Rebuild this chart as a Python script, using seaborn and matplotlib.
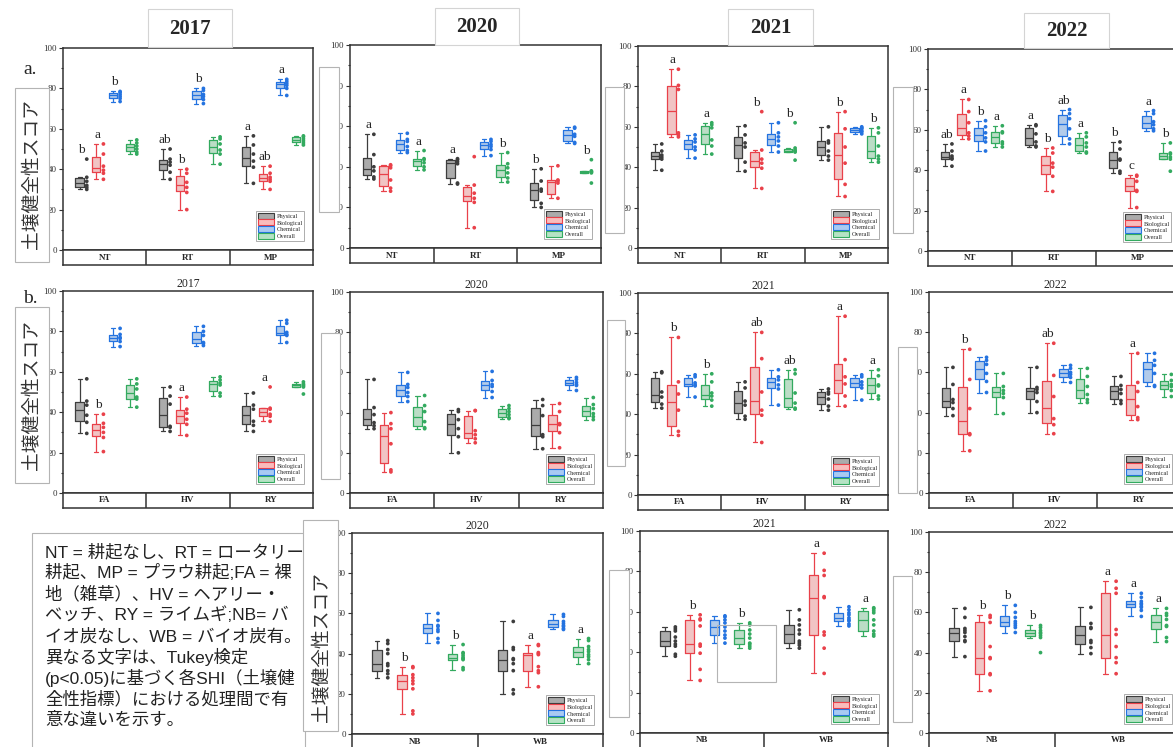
import matplotlib
matplotlib.use("Agg")
import matplotlib.pyplot as plt
import seaborn as sns
import pandas as pd
from matplotlib.patches import Patch, Rectangle

sns.set_style("ticks")
plt.rcParams.update(
    {
        "font.family": ["Liberation Serif", "DejaVu Serif"],
        "axes.edgecolor": "#333333",
        "axes.linewidth": 1.1,
        "xtick.color": "#333333",
        "ytick.color": "#333333",
    }
)

W, H = 1173, 747
JP = ["Noto Sans CJK JP", "DejaVu Sans"]
JP_TEXT = ["Liberation Sans", "Noto Sans CJK JP", "DejaVu Sans"]

SERIES = ["Physical", "Biological", "Chemical", "Overall"]
FILL = ["#ababab", "#f9bcbc", "#a9caf3", "#b5e3c4"]
EDGE = ["#3d3d3d", "#e9414a", "#2473e0", "#33aa5f"]

TILLAGE = ["NT", "RT", "MP"]
COVER = ["FA", "HV", "RY"]
BIOCHAR = ["NB", "WB"]

# a. 耕起処理
A2017 = {
    "Physical": [[45, 36, 34, 32, 31, 30], [50, 45, 43.5, 42, 38.5, 35], [56.5, 52, 47.5, 44, 41, 33]],
    "Biological": [[52.5, 47.5, 41.5, 39.5, 38, 35], [40, 38, 33.5, 31, 28.5, 20], [41.5, 38, 36, 35, 34, 30]],
    "Chemical": [[78.5, 78, 77, 76, 75, 73.5], [80, 79, 77, 76, 74.5, 72.5], [84.5, 83.5, 82.5, 81.5, 80, 76.5]],
    "Overall": [[54.5, 53, 51.5, 50, 48.5, 47.5], [56, 55, 52.5, 49.5, 47.5, 42.5], [56.5, 56, 55, 54, 53, 52]],
}
A2017_LET = {"Physical": ["b", "ab", "a"], "Biological": ["a", "b", "ab"], "Chemical": ["b", "b", "a"]}

A2020 = {
    "Physical": [[56, 46, 40, 38, 35, 34], [44, 43.5, 42.5, 41.5, 32, 31.5], [39, 33, 29, 28, 22, 20]],
    "Biological": [[41, 40.5, 39.5, 33.5, 29.5, 28], [45, 31, 27, 24.5, 22.5, 10], [40.5, 33.5, 33, 32, 24.5, 11.5]],
    "Chemical": [[56.5, 53.5, 52.5, 50, 48, 47], [53.5, 52.5, 51, 50, 48.5, 45.5], [59.5, 59, 56, 55, 52, 51.5]],
    "Overall": [[48, 44, 43.5, 42, 40, 38.5], [47, 41.5, 39.5, 37, 34.5, 32.5], [43.5, 38, 37.5, 37.5, 37, 32]],
}
A2020_LET = {"Physical": ["a", "a", "b"], "Overall": ["a", "b", "b"]}

A2021 = {
    "Physical": [[51.5, 48, 46, 45, 44, 38.5], [60.5, 56, 52, 50, 42.5, 38], [60, 53, 52, 48, 45.5, 43.5]],
    "Biological": [[88.5, 80.5, 78.5, 57, 56, 55], [67.5, 48.5, 44, 42, 39.5, 29.5], [67.5, 59, 50, 42, 31.5, 25.5]],
    "Chemical": [[56, 54, 52.5, 50, 48.5, 44.5], [62, 57, 55, 53, 50.5, 47.5], [60, 59.5, 59, 58, 57.5, 56.5]],
    "Overall": [[62, 61, 59.5, 53.5, 50.5, 46.5], [62, 49.5, 48.5, 48, 47.5, 43.5], [59.5, 57, 50.5, 45.5, 44, 42.5]],
}
A2021_LET = {"Biological": ["a", "b", "b"], "Overall": ["a", "b", "b"]}

A2022 = {
    "Physical": [[53, 49.5, 47, 46, 45.5, 42], [62.5, 62, 58, 54, 52, 51.5], [54, 50.5, 45.5, 45, 39.5, 38.5]],
    "Biological": [[75, 69, 63.5, 58.5, 57, 55.5], [51, 48.5, 43.5, 41.5, 37, 29.5], [37.5, 37, 34.5, 30, 29.5, 21.5]],
    "Chemical": [[64.5, 61.5, 58.5, 56, 54, 49.5], [70, 68, 65.5, 60.5, 55.5, 53], [69.5, 68, 64, 62.5, 60.5, 59.5]],
    "Overall": [[62, 59, 58.5, 54, 53, 51.5], [58.5, 56.5, 53.5, 51.5, 49, 48.5], [53.5, 48.5, 48, 46.5, 45.5, 39.5]],
}
A2022_LET = {"Physical": ["ab", "a", "b"], "Biological": ["a", "b", "c"],
             "Chemical": ["b", "ab", "a"], "Overall": ["a", "a", "b"]}

# b. 被覆作物
B2017 = {
    "Physical": [[56.5, 45.5, 43.5, 38.5, 35, 29.5], [52.5, 48, 44, 33, 32.5, 30.5], [49.5, 43.5, 41.5, 35.5, 33.5, 30.5]],
    "Biological": [[39, 34.5, 32.5, 30, 27.5, 20.5], [47.5, 41.5, 39.5, 36.5, 34, 28.5], [52.5, 42, 41.5, 39, 38, 35.5]],
    "Chemical": [[81.5, 78.5, 77, 76.5, 75, 72.5], [82.5, 80, 78, 74.5, 74, 73], [85.5, 84, 79.5, 78.5, 78, 74.5]],
    "Overall": [[56.5, 54, 51.5, 47.5, 46.5, 42.5], [57.5, 56, 54.5, 53.5, 49.5, 48], [55, 54, 53.5, 53, 52.5, 49]],
}
B2017_LET = {"Biological": ["b", "a", "a"]}

B2020 = {
    "Physical": [[56.5, 42.5, 39, 35, 33.5, 32], [41.5, 40.5, 36.5, 32, 28, 20], [46.5, 43.5, 38.5, 29, 28, 22]],
    "Biological": [[40, 34.5, 32, 24.5, 11.5, 10.5], [41, 41, 31, 29, 27, 25], [44.5, 40.5, 34.5, 34, 30, 22.5]],
    "Chemical": [[60, 54, 52.5, 50, 48, 45.5], [60.5, 56, 54, 53, 50.5, 47.5], [57.5, 56.5, 55, 54, 53.5, 51]],
    "Overall": [[48.5, 43.5, 40.5, 35.5, 32.5, 32], [43.5, 42, 40.5, 39, 37.5, 37], [47.5, 44, 42, 39.5, 38, 36.5]],
}
B2020_LET = {}

B2021 = {
    "Physical": [[61, 60.5, 51, 48.5, 45, 43], [56, 53, 46.5, 44.5, 39, 37.5], [52.5, 51, 50, 47.5, 44, 42]],
    "Biological": [[78, 56, 50, 42, 31.5, 29.5], [80.5, 67.5, 51, 42, 39.5, 26], [88.5, 67, 58.5, 55, 49, 44]],
    "Chemical": [[59.5, 58.5, 55.5, 54.5, 54, 48.5], [62, 58.5, 57, 54.5, 52.5, 44.5], [59.5, 58.5, 56, 54.5, 53, 47]],
    "Overall": [[60, 56, 50.5, 49, 47, 44], [62, 60, 50.5, 45.5, 43, 42.5], [62, 59, 54.5, 54, 49, 47.5]],
}
B2021_LET = {"Biological": ["b", "ab", "a"], "Overall": ["b", "ab", "a"]}

B2022 = {
    "Physical": [[62.5, 54, 46.5, 45, 42, 38.5], [62.5, 52.5, 51.5, 50, 45.5, 40], [58, 53.5, 51.5, 49.5, 46, 44.5]],
    "Biological": [[71.5, 56.5, 42, 29.5, 29, 21], [74.5, 58.5, 48, 37, 34, 29.5], [69.5, 55, 50.5, 43, 37.5, 36.5]],
    "Chemical": [[67.5, 66, 64, 59.5, 55.5, 50], [63.5, 62, 60, 59, 57.5, 55], [69.5, 66, 63.5, 59.5, 53.5, 53]],
    "Overall": [[59.5, 53, 51, 49.5, 47.5, 39.5], [62, 58, 53, 49, 46.5, 45], [59, 56, 54, 53, 51, 48]],
}
B2022_LET = {"Biological": ["b", "ab", "a"]}

# c. バイオ炭
C2020 = {
    "Physical": [[46.5, 45, 42, 40, 35, 34, 31.5, 30, 28], [56, 43, 42, 37.5, 37, 35, 31.5, 22, 20]],
    "Biological": [[33.5, 33, 29.5, 28, 26.5, 25, 22.5, 11.5, 10], [44.5, 44, 40.5, 40, 39.5, 33.5, 31.5, 30.5, 23.5]],
    "Chemical": [[60, 56.5, 54, 53.5, 52, 51, 47.5, 45.5], [59.5, 58.5, 56, 55, 54, 53.5, 52.5, 52]],
    "Overall": [[44.5, 40.5, 40, 39, 38, 37.5, 37, 33, 32], [47.5, 46.5, 43.5, 42, 41, 39.5, 38.5, 37, 35]],
}
C2020_LET = {"Biological": ["b", "a"], "Overall": ["b", "a"]}

C2021 = {
    "Physical": [[52.5, 51.5, 50.5, 47.5, 45.5, 44, 43, 39, 38], [61, 56, 53.5, 51, 49, 45.5, 44.5, 43.5, 42]],
    "Biological": [[58.5, 56.5, 56, 53, 44, 43, 39.5, 31.5, 26], [89, 80.5, 78, 67.5, 67, 50, 48.5, 42, 29.5]],
    "Chemical": [[58, 57.5, 56, 54.5, 52.5, 50.5, 48.5, 47, 44.5], [62.5, 61, 59.5, 58.5, 57, 56, 55.5, 54, 53]],
    "Overall": [[54.5, 53.5, 51, 49, 47, 44.5, 44, 43, 42], [62, 61.5, 60.5, 59.5, 56, 53.5, 50.5, 49, 48]],
}
C2021_LET = {"Biological": ["b", "a"], "Overall": ["b", "a"]}

C2022 = {
    "Physical": [[62, 57.5, 52, 51, 50, 48, 46, 45.5, 38], [62.5, 54.5, 52.5, 52, 46, 45, 42.5, 39.5]],
    "Biological": [[58.5, 57.5, 55, 43, 37.5, 37, 29.5, 29, 21], [75.5, 72, 69.5, 51.5, 49, 43, 37.5, 35, 29.5]],
    "Chemical": [[63.5, 60, 57.5, 55.5, 54.5, 53.5, 52.5, 50], [69.5, 67.5, 65.5, 64.5, 64, 63, 62.5, 61, 58]],
    "Overall": [[53.5, 52.5, 51, 50, 49.5, 48.5, 47.5, 40], [62, 59.5, 58.5, 56.5, 53.5, 53, 47.5, 45.5]],
}
C2022_LET = {"Biological": ["b", "a"], "Chemical": ["b", "a"], "Overall": ["b", "a"]}

NOTE_LINES = [
    "NT = 耕起なし、RT = ロータリー",
    "耕起、MP = プラウ耕起;FA = 裸",
    "地（雑草）、HV = ヘアリー・",
    "ベッチ、RY = ライムギ;NB= バ",
    "イオ炭なし、WB = バイオ炭有。",
    "異なる文字は、Tukey検定",
    "(p<0.05)に基づく各SHI（土壌健",
    "全性指標）における処理間で有",
    "意な違いを示す。",
]
YLABEL = "土壌健全性スコア"


def px_rect(x0, y0, x1, y1):
    return [x0 / W, 1 - y1 / H, (x1 - x0) / W, (y1 - y0) / H]


def overlay_box(x0, y0, x1, y1, fill=True, ec="#b4b4b4", z=5):
    fig.add_artist(Rectangle((x0 / W, 1 - y1 / H), (x1 - x0) / W, (y1 - y0) / H,
                             transform=fig.transFigure, facecolor="white" if fill else "none",
                             edgecolor=ec, linewidth=0.8, zorder=z))


def draw_panel(box, groups, data, letters, title=None):
    ax = fig.add_axes(px_rect(*box))
    rows = [(g, s, v) for s in SERIES for g, vals in zip(groups, data[s]) for v in vals]
    df = pd.DataFrame(rows, columns=["group", "series", "score"])
    gap = 0.5 if len(groups) == 3 else 0.62
    common = dict(data=df, x="group", y="score", hue="series", order=groups,
                  hue_order=SERIES, ax=ax, legend=False)
    sns.boxplot(**common, palette=FILL, fill=True, linewidth=0, gap=gap, width=0.8,
                whis=2.0, showfliers=False, showcaps=False)
    sns.boxplot(**common, palette=EDGE, fill=False, linewidth=0.9, gap=gap, width=0.8,
                whis=2.0, showfliers=False)
    n = len(ax.collections)
    sns.stripplot(**common, palette=EDGE, dodge=True, jitter=False, size=2.7, linewidth=0)
    for coll in ax.collections[n:]:
        off = coll.get_offsets()
        off[:, 0] += 0.085
        coll.set_offsets(off)

    for si, s in enumerate(SERIES):
        for gi, lab in enumerate(letters.get(s, [])):
            if lab:
                ax.text(gi + (si - 1.5) * 0.2 + 0.02, max(data[s][gi]) + 1.5, lab,
                        ha="center", va="bottom", fontsize=9.5)

    ax.set_xlim(-0.5, len(groups) - 0.5)
    ax.set_ylim(0, 100)
    ax.set_yticks(range(0, 101, 20))
    ax.set_yticks(range(10, 100, 20), minor=True)
    ax.tick_params(axis="y", which="major", length=3, width=0.8, labelsize=6.5, pad=1.5)
    ax.tick_params(axis="y", which="minor", length=1.8, width=0.8)
    ax.set_xticks([])
    ax.set_xlabel("")
    ax.set_ylabel("")
    if title:
        ax.set_title(title, fontsize=8.5, pad=3)

    # category strip under the axis
    h = 15 / (box[3] - box[1])
    strip = ax.inset_axes([0, -h, 1, h])
    strip.set_xlim(ax.get_xlim())
    strip.set_ylim(0, 1)
    strip.set_xticks([])
    strip.set_yticks([])
    for b in range(1, len(groups)):
        strip.axvline(b - 0.5, color="#333333", lw=1.1)
    for i, g in enumerate(groups):
        strip.text(i, 0.5, g, ha="center", va="center", fontsize=6.5, fontweight="bold")

    handles = [Patch(facecolor=f, edgecolor=e, linewidth=0.8, label=s)
               for s, f, e in zip(SERIES, FILL, EDGE)]
    leg = ax.legend(handles=handles, loc="lower right", bbox_to_anchor=(0.965, 0.045),
                    fontsize=4.5, frameon=True, fancybox=False, edgecolor="#888888",
                    handlelength=2.6, handleheight=1.1, labelspacing=0.12, borderpad=0.25,
                    handletextpad=0.4, borderaxespad=0)
    leg.get_frame().set_linewidth(0.6)
    return ax


fig = plt.figure(figsize=(W / 100, H / 100), dpi=100)

# row a
draw_panel((63, 48, 313, 250), TILLAGE, A2017, A2017_LET)
draw_panel((350, 45, 601, 248), TILLAGE, A2020, A2020_LET)
draw_panel((638, 46, 888, 248), TILLAGE, A2021, A2021_LET)
draw_panel((928, 49, 1180, 251), TILLAGE, A2022, A2022_LET)
# row b
draw_panel((63, 291, 313, 493), COVER, B2017, B2017_LET, "2017")
draw_panel((350, 292, 603, 493), COVER, B2020, B2020_LET, "2020")
draw_panel((638, 293, 888, 495), COVER, B2021, B2021_LET, "2021")
draw_panel((929, 292, 1181, 493), COVER, B2022, B2022_LET, "2022")
# row c
draw_panel((352, 533, 603, 734), BIOCHAR, C2020, C2020_LET, "2020")
draw_panel((640, 531, 888, 733), BIOCHAR, C2021, C2021_LET, "2021")
draw_panel((929, 532, 1181, 733), BIOCHAR, C2022, C2022_LET, "2022")

# year headers of row a
for (x0, y0, x1, y1), yr in zip([(148, 9, 232, 47), (435, 8, 519, 45), (728, 9, 813, 45), (1024, 13, 1109, 48)],
                                ["2017", "2020", "2021", "2022"]):
    overlay_box(x0, y0, x1, y1, ec="#d4d4d4")
    fig.text((x0 + x1) / 2 / W, 1 - ((y0 + y1) / 2 + 1) / H, yr, ha="center", va="center",
             fontsize=15, fontweight="bold", zorder=6)

# pasted label boxes covering the tick labels
for b in [(319, 67, 339, 212), (605, 87, 624, 233), (893, 87, 913, 233),
          (321, 333, 340, 479), (607, 320, 625, 466), (898, 347, 917, 493),
          (609, 570, 629, 717), (893, 576, 912, 722)]:
    overlay_box(*b)
overlay_box(717, 625, 776, 682, fill=False)

# y labels and panel letters
overlay_box(15, 88, 49, 262)
overlay_box(15, 307, 49, 483)
fig.text(31 / W, 1 - 174 / H, YLABEL, rotation=90, ha="center", va="center",
         fontsize=13.5, family=JP, color="#333333", zorder=6)
fig.text(31 / W, 1 - 395 / H, YLABEL, rotation=90, ha="center", va="center",
         fontsize=13.5, family=JP, color="#333333", zorder=6)
fig.text(30 / W, 1 - 70 / H, "a.", ha="center", va="center", fontsize=14, zorder=6)
fig.text(30 / W, 1 - 298 / H, "b.", ha="center", va="center", fontsize=14, zorder=6)

# note box
overlay_box(32, 533, 305, 760)
for i, line in enumerate(NOTE_LINES):
    fig.text(45 / W, 1 - (552 + i * 21) / H, line, ha="left", va="center",
             fontsize=12.5, family=JP_TEXT, color="#222222", zorder=6)
overlay_box(303, 520, 338, 731, z=7)
fig.text(321 / W, 1 - 647 / H, YLABEL, rotation=90, ha="center", va="center",
         fontsize=13.5, family=JP, color="#333333", zorder=8)

fig.savefig("out.png", dpi=100)
